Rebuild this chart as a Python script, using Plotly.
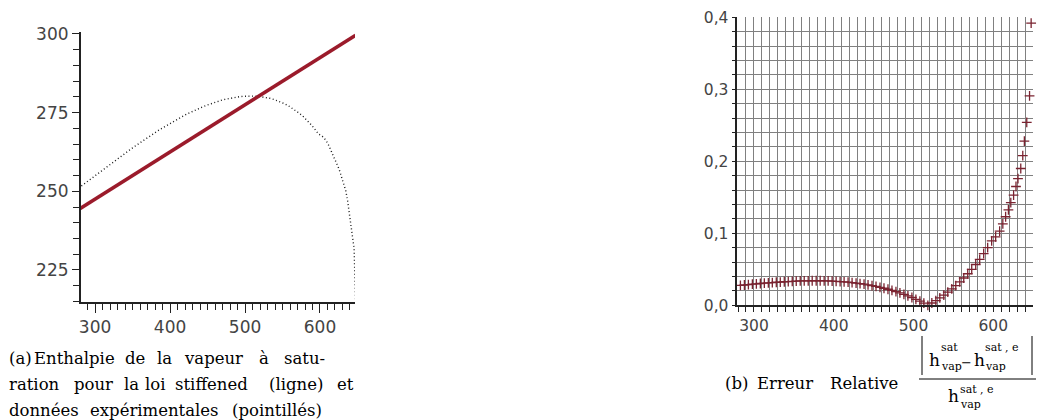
import plotly.graph_objects as go

# ---------------- data ----------------
# experimental temperatures (K)
T_exp = [278, 283, 288, 293, 298, 303, 308, 313, 318, 323, 328, 333, 338, 343, 348,
         353, 358, 363, 368, 373, 378, 383, 388, 393, 398, 403, 408, 413, 418, 423,
         428, 433, 438, 443, 448, 453, 458, 463, 468, 473, 478, 483, 488, 493, 498,
         503, 508, 513, 518, 523, 528, 533, 538, 543, 548, 553, 558, 563, 568, 573,
         578, 583, 588, 593, 598,
         603, 608, 612, 615.5, 619, 622, 625.5, 628.5, 631, 634.5, 637, 639, 642, 645.5, 647.5]

# experimental saturated vapour enthalpy (dotted curve)
h_exp = [251.01, 251.92, 252.84, 253.74, 254.65, 255.56, 256.46, 257.35, 258.24, 259.13,
         260.01, 260.88, 261.75, 262.61, 263.46, 264.30, 265.14, 265.96, 266.76, 267.56,
         268.34, 269.11, 269.86, 270.59, 271.31, 272.01, 272.69, 273.35, 273.98, 274.59,
         275.18, 275.74, 276.28, 276.79, 277.27, 277.72, 278.14, 278.53, 278.89, 279.20,
         279.48, 279.73, 279.93, 280.09, 280.20, 280.27, 280.29, 280.26, 280.17, 280.03,
         279.83, 279.56, 279.23, 278.83, 278.35, 277.80, 277.16, 276.43, 275.61, 274.69,
         273.66, 272.50, 271.21, 269.79, 268.20,
         267.5, 266.2, 264.4, 262.5, 260.8, 258.9, 257.0, 254.7, 252.6, 250.1,
         246.7, 242.9, 238.2, 231.8, 215.3]

# stiffened-gas law (solid red line)
T_law = [278, 320, 360, 400, 440, 480, 520, 560, 600, 647.5]
h_law = [244.2, 250.5, 256.5, 262.5, 268.5, 274.5, 280.5, 286.5, 292.5, 299.6]

# relative error (crosses)
err = [0.0271, 0.0277, 0.0282, 0.0287, 0.0293, 0.0298, 0.0303, 0.0307, 0.0311, 0.0316,
       0.0320, 0.0323, 0.0327, 0.0330, 0.0333, 0.0335, 0.0338, 0.0339, 0.0340, 0.0341,
       0.0341, 0.0341, 0.0340, 0.0338, 0.0336, 0.0333, 0.0330, 0.0326, 0.0321, 0.0315,
       0.0309, 0.0301, 0.0293, 0.0284, 0.0274, 0.0262, 0.0250, 0.0237, 0.0223, 0.0207,
       0.0190, 0.0172, 0.0152, 0.0131, 0.0108, 0.0083, 0.0057, 0.0030, 0.0000, 0.0032,
       0.0066, 0.0103, 0.0141, 0.0183, 0.0227, 0.0274, 0.0325, 0.0379, 0.0438, 0.0500,
       0.0567, 0.0639, 0.0718, 0.0802, 0.0894,
       0.095, 0.103, 0.113, 0.123, 0.1324, 0.1425, 0.153, 0.165, 0.176, 0.190,
       0.208, 0.228, 0.254, 0.291, 0.392]

# caption words (text, left pixel) per line
cap_a = [
    [("(a)", 7), ("Enthalpie", 32), ("de", 123), ("la", 155), ("vapeur", 182), ("à", 257), ("satu-", 282)],
    [("ration", 7), ("pour", 72), ("la", 122), ("loi", 143), ("stiffened", 173), ("(ligne)", 267), ("et", 335)],
    [("données", 7), ("expérimentales", 88), ("(pointillés)", 230)],
]
cap_a_y = [358, 384, 410]
cap_b = [("(b)", 723), ("Erreur", 755), ("Relative", 828)]

W, H = 1039, 420


def px(x):
    return x / W


def py(y):
    return 1 - y / H


fig = go.Figure()

# ---- left panel ----
fig.add_trace(go.Scatter(x=T_exp, y=h_exp, mode="lines", xaxis="x", yaxis="y",
                         line=dict(color="#1a1a1a", width=1.4, dash="1px,2.5px"),
                         showlegend=False))
fig.add_trace(go.Scatter(x=T_law, y=h_law, mode="lines", xaxis="x", yaxis="y",
                         line=dict(color="#9b1b2b", width=3.5),
                         showlegend=False))

# ---- right panel ----
fig.add_trace(go.Scatter(x=T_exp, y=err, mode="markers", xaxis="x2", yaxis="y2",
                         marker=dict(symbol="cross-thin", size=7,
                                     line=dict(color="#7a2330", width=1.3)),
                         cliponaxis=False, showlegend=False))

tick_font_l = dict(family="DejaVu Sans", size=17, color="#444444")
tick_font_r = dict(family="DejaVu Sans", size=15.5, color="#444444")

fig.update_layout(
    template="none",
    width=W, height=H,
    margin=dict(l=0, r=0, t=0, b=0, pad=0, autoexpand=False),
    paper_bgcolor="white", plot_bgcolor="white",
    separators=",.",
    xaxis=dict(domain=[px(80.7), px(355)], range=[280.8, 646.7], anchor="y",
               automargin=False,
               showline=True, linecolor="#222222", linewidth=1.5,
               ticks="outside", ticklen=9, tickwidth=1.3, tickcolor="#222222",
               tick0=0, dtick=100, showgrid=False, zeroline=False,
               tickfont=tick_font_l,
               minor=dict(dtick=10, tick0=0, ticks="outside", ticklen=6,
                          tickwidth=1.2, tickcolor="#222222", showgrid=False)),
    yaxis=dict(domain=[py(302), py(32.4)], range=[214.8, 300.5], anchor="x",
               automargin=False,
               showline=True, linecolor="#222222", linewidth=1.5,
               ticks="outside", ticklen=7, tickwidth=1.3, tickcolor="#222222",
               tick0=0, dtick=25, showgrid=False, zeroline=False,
               tickfont=tick_font_l,
               minor=dict(dtick=5, tick0=0, ticks="outside", ticklen=6,
                          tickwidth=1.2, tickcolor="#222222", showgrid=False)),
    xaxis2=dict(domain=[px(737.3), px(1032.5)], range=[279.1, 649.2], anchor="y2",
                automargin=False,
                showline=True, linecolor="#222222", linewidth=1.5,
                ticks="outside", ticklen=5, tickwidth=1.2, tickcolor="#222222",
                tick0=0, dtick=100, showgrid=True, gridcolor="#808080", gridwidth=1,
                zeroline=False, tickfont=tick_font_r,
                minor=dict(dtick=10, tick0=0, ticks="outside", ticklen=5,
                           tickwidth=1.2, tickcolor="#222222", showgrid=True,
                           gridcolor="#808080", gridwidth=1)),
    yaxis2=dict(domain=[py(305.3), py(17.3)], range=[0, 0.4], anchor="x2",
                automargin=False,
                showline=True, linecolor="#222222", linewidth=1.5,
                ticks="outside", ticklen=4, tickwidth=1.2, tickcolor="#222222",
                tick0=0, dtick=0.1, tickformat=".1f",
                showgrid=True, gridcolor="#808080", gridwidth=1,
                zeroline=False, tickfont=tick_font_r,
                minor=dict(dtick=0.02, tick0=0, ticks="outside", ticklen=4,
                           tickwidth=1.2, tickcolor="#222222", showgrid=True,
                           gridcolor="#808080", gridwidth=1)),
)

serif = "DejaVu Serif"
ann = []


def piece(text, x, y, size, anchor="left"):
    ann.append(dict(text=text, x=px(x), y=py(y), xref="paper", yref="paper",
                    xanchor=anchor, yanchor="middle", showarrow=False,
                    font=dict(family=serif, size=size, color="black")))


for words, yc in zip(cap_a, cap_a_y):
    for w, xl in words:
        piece(w, xl, yc, 16.5)

for w, xl in cap_b:
    piece(w, xl, 383, 16.5)

# numerator
piece("h", 927, 360, 17)
piece("sat", 939, 347, 11)
piece("vap", 939, 366, 11)
piece("−", 966, 362, 13, anchor="center")
piece("h", 972, 360, 17)
piece("sat , e", 983, 347, 11)
piece("vap", 983, 366, 11)
# denominator
piece("h", 946, 396, 17)
piece("sat , e", 958, 389, 11)
piece("vap", 958, 404, 11)

fig.update_layout(annotations=ann)

shapes = [
    dict(type="line", xref="paper", yref="paper", x0=px(919), x1=px(1036),
         y0=py(379), y1=py(379), line=dict(color="black", width=1)),
    dict(type="line", xref="paper", yref="paper", x0=px(922), x1=px(922),
         y0=py(336), y1=py(375), line=dict(color="black", width=1)),
    dict(type="line", xref="paper", yref="paper", x0=px(1032), x1=px(1032),
         y0=py(336), y1=py(375), line=dict(color="black", width=1)),
]
fig.update_layout(shapes=shapes)

fig.write_html("out.html",
               config={"displayModeBar": False},
               post_script="document.body.style.margin='0';document.body.style.overflow='hidden';")
